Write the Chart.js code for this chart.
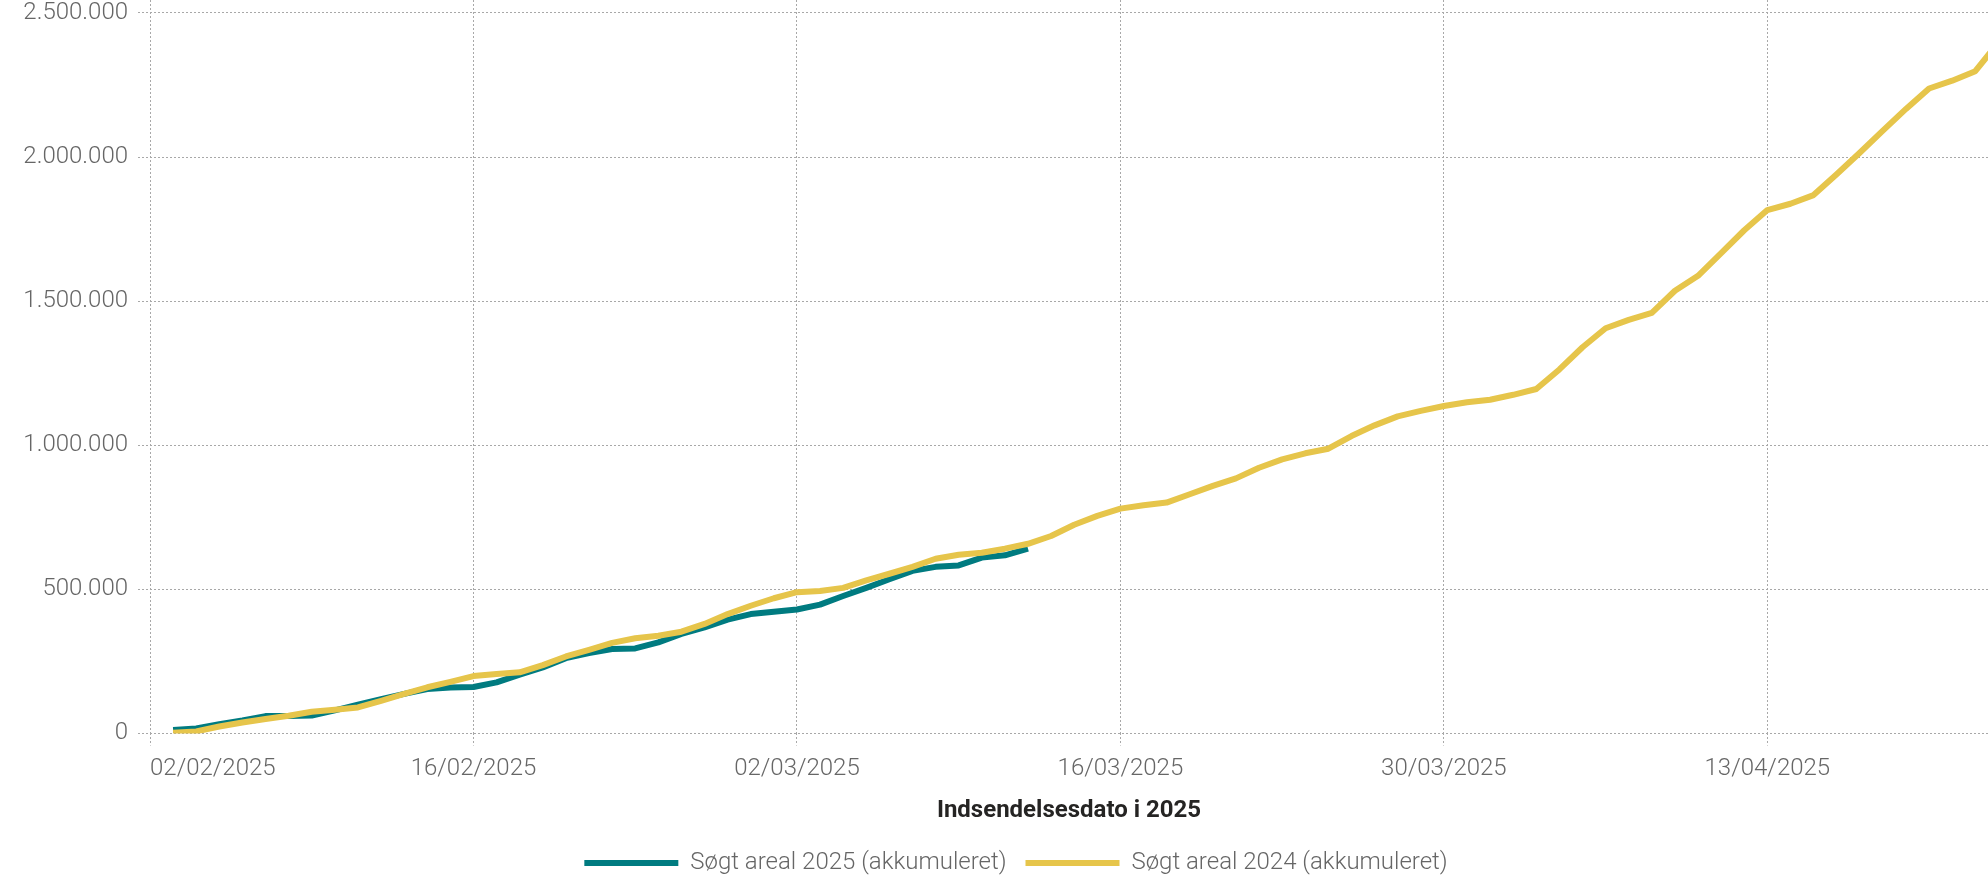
<!DOCTYPE html>
<html>
<head>
<meta charset="utf-8">
<script src="https://cdn.jsdelivr.net/npm/chart.js@4.4.1/dist/chart.umd.min.js"></script>
<style>
html,body{margin:0;padding:0;background:#ffffff;}
#wrap{width:1988px;height:875px;}
</style>
</head>
<body>
<div id="wrap"><canvas id="c" width="1988" height="875"></canvas></div>
<script>
// ---- data ----
const dates = [
 '03/02/2025','04/02/2025','05/02/2025','06/02/2025','07/02/2025','08/02/2025','09/02/2025','10/02/2025','11/02/2025','12/02/2025',
 '13/02/2025','14/02/2025','15/02/2025','16/02/2025','17/02/2025','18/02/2025','19/02/2025','20/02/2025','21/02/2025','22/02/2025',
 '23/02/2025','24/02/2025','25/02/2025','26/02/2025','27/02/2025','28/02/2025','01/03/2025','02/03/2025','03/03/2025','04/03/2025',
 '05/03/2025','06/03/2025','07/03/2025','08/03/2025','09/03/2025','10/03/2025','11/03/2025','12/03/2025','13/03/2025','14/03/2025',
 '15/03/2025','16/03/2025','17/03/2025','18/03/2025','19/03/2025','20/03/2025','21/03/2025','22/03/2025','23/03/2025','24/03/2025',
 '25/03/2025','26/03/2025','27/03/2025','28/03/2025','29/03/2025','30/03/2025','31/03/2025','01/04/2025','02/04/2025','03/04/2025',
 '04/04/2025','05/04/2025','06/04/2025','07/04/2025','08/04/2025','09/04/2025','10/04/2025','11/04/2025','12/04/2025','13/04/2025',
 '14/04/2025','15/04/2025','16/04/2025','17/04/2025','18/04/2025','19/04/2025','20/04/2025','21/04/2025','22/04/2025','23/04/2025'
];
const areal2025 = [
 12000, 17000, 32000, 45000, 60000, 60000, 62000, 80000, 100000, 119000,
 137000, 154000, 159000, 161000, 177000, 204000, 229000, 261000, 279000, 293000,
 295000, 316000, 345000, 368000, 395000, 414000, 422000, 430000, 447000, 477000,
 505000, 535000, 564000, 578000, 583000, 610000, 618000, 641000
];
const areal2024 = [
 2000, 7000, 24000, 38000, 50000, 61000, 75000, 82000, 90000, 113000,
 137000, 160000, 179000, 199000, 206000, 212000, 237000, 267000, 290000, 314000,
 330000, 339000, 353000, 380000, 414000, 443000, 469000, 490000, 494000, 505000,
 531000, 554000, 578000, 606000, 620000, 627000, 641000, 658000, 685000, 724000,
 755000, 780000, 792000, 801000, 830000, 859000, 885000, 922000, 951000, 972000,
 988000, 1032000, 1069000, 1100000, 1119000, 1136000, 1149000, 1158000, 1175000, 1195000,
 1263000, 1340000, 1406000, 1435000, 1459000, 1536000, 1588000, 1667000, 1746000, 1816000,
 1838000, 1868000, 1940000, 2015000, 2092000, 2167000, 2238000, 2265000, 2298000, 2398000
];
const xTickLabels = ['02/02/2025','16/02/2025','02/03/2025','16/03/2025','30/03/2025','13/04/2025'];
const yTickValues = [0, 500000, 1000000, 1500000, 2000000, 2500000];
const seriesNames = ['Søgt areal 2025 (akkumuleret)', 'Søgt areal 2024 (akkumuleret)'];
const axisTitle = 'Indsendelsesdato i 2025';

// ---- helpers ----
function dayIndex(s){
  const p = s.split('/').map(Number);
  return Math.round((Date.UTC(p[2], p[1]-1, p[0]) - Date.UTC(2025, 1, 2)) / 86400000);
}
const xs = dates.map(dayIndex);
const tickDays = xTickLabels.map(dayIndex);
const fmt = v => String(Math.round(v)).replace(/\B(?=(\d{3})+(?!\d))/g, '.');
const X_MAX = 79.55;
const Y_MAX = 2545000;
const gridColor = '#a8a8a8';
const tickFont = {family: "Roboto, 'Liberation Sans', sans-serif", size: 24, weight: '300'};
const xGridColor = c => (c.tick && c.tick.value === X_MAX) ? 'rgba(0,0,0,0)' : gridColor;

const legendShift = {
  id: 'legendShift',
  afterLayout(chart) { if (chart.legend) { chart.legend.left += 44; } }
};

new Chart(document.getElementById('c'), {
  type: 'line',
  plugins: [legendShift],
  data: {
    datasets: [
      {label: seriesNames[0], data: areal2025.map((v,i)=>({x: xs[i], y: v})),
       borderColor: '#007B80', backgroundColor: '#007B80', borderWidth: 6,
       pointRadius: 0, tension: 0, borderJoinStyle: 'round', order: 1},
      {label: seriesNames[1], data: areal2024.map((v,i)=>({x: xs[i], y: v})),
       borderColor: '#E6C54B', backgroundColor: '#E6C54B', borderWidth: 6,
       pointRadius: 0, tension: 0, borderJoinStyle: 'round', order: 0}
    ]
  },
  options: {
    responsive: false,
    animation: false,
    events: [],
    layout: {padding: {left: 0, right: 0, top: 0, bottom: -10}},
    plugins: {
      tooltip: {enabled: false},
      legend: {
        position: 'bottom',
        labels: {
          usePointStyle: true, pointStyle: 'line', pointStyleWidth: 94,
          color: '#666666', font: tickFont, padding: 19,
          sort: (a, b) => a.datasetIndex - b.datasetIndex
        }
      }
    },
    scales: {
      x: {
        type: 'linear', min: 0, max: X_MAX,
        afterBuildTicks: ax => { ax.ticks = tickDays.map(v => ({value: v})).concat([{value: X_MAX}]); },
        afterFit: sc => { sc.paddingLeft = 0; sc.paddingRight = 0; },
        grid: {color: xGridColor, tickColor: xGridColor, lineWidth: 1, tickLength: 12, tickBorderDash: [2,2], drawTicks: true},
        border: {display: false, dash: [2,2]},
        ticks: {
          align: 'inner', padding: 9, color: '#666666', font: tickFont,
          maxRotation: 0, autoSkip: false,
          callback: v => { const i = tickDays.indexOf(v); return i >= 0 ? xTickLabels[i] : ''; }
        },
        title: {display: true, text: axisTitle, color: '#252423',
          font: {family: "Roboto, 'Liberation Sans', sans-serif", size: 24, weight: 'bold'},
          padding: {top: 4, bottom: 7}}
      },
      y: {
        min: 0, max: Y_MAX,
        afterBuildTicks: ax => { ax.ticks = yTickValues.map(v => ({value: v})); },
        afterFit: sc => { sc.width = 150; sc.paddingTop = 0; sc.paddingBottom = 0; },
        grid: {color: gridColor, tickColor: gridColor, lineWidth: 1, tickLength: 12, tickBorderDash: [2,2], drawTicks: true},
        border: {display: false, dash: [2,2]},
        ticks: {padding: 10, color: '#666666', font: tickFont, callback: v => fmt(v)}
      }
    }
  }
});
</script>
</body>
</html>
